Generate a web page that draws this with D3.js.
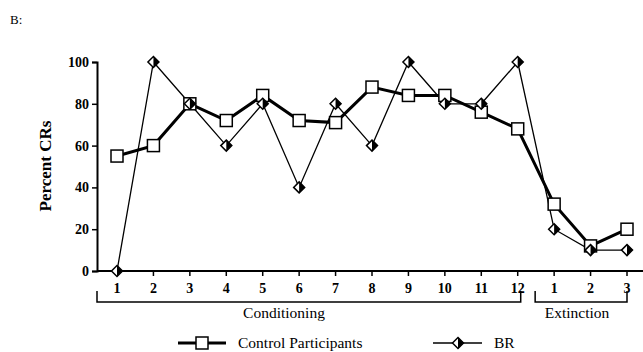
<!DOCTYPE html>
<html>
<head>
<meta charset="utf-8">
<script src="https://cdn.jsdelivr.net/npm/d3@7"></script>
<style>
  body { margin: 0; background: #fff; }
  text { font-family: 'Liberation Serif', 'DejaVu Serif', serif; fill: #000; }
</style>
</head>
<body>
<svg id="chart" width="643" height="352"></svg>
<script>
var trialLabels = ['1', '2', '3', '4', '5', '6', '7', '8', '9', '10', '11', '12', '1', '2', '3'];
var controlValues = [55, 60, 80, 72, 84, 72, 71, 88, 84, 84, 76, 68, 32, 12, 20];
var brValues = [0, 100, 80, 60, 80, 40, 80, 60, 100, 80, 80, 100, 20, 10, 10];
var yTicks = [0, 20, 40, 60, 80, 100];

var svg = d3.select('#chart');

var x = d3.scaleLinear().domain([0, 14]).range([117, 627]);
var y = d3.scaleLinear().domain([0, 100]).range([271, 62]);

// panel letter
svg.append('text').attr('x', 10).attr('y', 24).style('font-size', '13px').text('B:');

// y axis
var yAxis = svg.append('g')
    .attr('transform', 'translate(97,0)')
    .call(d3.axisLeft(y).tickValues(yTicks).tickSize(5).tickPadding(3));
yAxis.select('.domain').attr('stroke', '#000').attr('stroke-width', 2);
yAxis.selectAll('.tick line').attr('stroke-width', 1.5);
yAxis.selectAll('.tick text')
    .style('font-family', "'Liberation Serif', serif")
    .style('font-size', '14px').style('font-weight', 'bold');

svg.append('text')
    .attr('transform', 'translate(51,166) rotate(-90)')
    .attr('text-anchor', 'middle')
    .style('font-size', '17px').style('font-weight', 'bold')
    .text('Percent CRs');

// x axis line
svg.append('line').attr('x1', 97).attr('x2', 643).attr('y1', 271).attr('y2', 271)
    .attr('stroke', '#000').attr('stroke-width', 2);

var xt = svg.append('g').selectAll('g').data(trialLabels).enter().append('g')
    .attr('transform', function (d, i) { return 'translate(' + x(i) + ',271)'; });
xt.append('line').attr('y1', 0).attr('y2', 5).attr('stroke', '#000').attr('stroke-width', 1.5);
xt.append('text').attr('y', 22).attr('text-anchor', 'middle')
    .style('font-size', '14px').style('font-weight', 'bold')
    .text(function (d) { return d; });

// phase brackets
var brackets = [
    { name: 'Conditioning', x0: 97, x1: x(11) + 3, tx: 284 },
    { name: 'Extinction', x0: x(12) - 19, x1: x(14), tx: 577 }
];
brackets.forEach(function (b) {
    svg.append('path')
        .attr('d', 'M' + b.x0 + ',291V302H' + b.x1 + 'V291')
        .attr('fill', 'none').attr('stroke', '#000').attr('stroke-width', 1.5);
    svg.append('text').attr('x', b.tx)
        .attr('y', 318).attr('text-anchor', 'middle').style('font-size', '15.5px')
        .text(b.name);
});

var line = d3.line()
    .x(function (d, i) { return x(i); })
    .y(function (d) { return y(d); });

// BR series (thin)
svg.append('path').datum(brValues).attr('d', line)
    .attr('fill', 'none').attr('stroke', '#000').attr('stroke-width', 1.3);
// control series (thick)
svg.append('path').datum(controlValues).attr('d', line)
    .attr('fill', 'none').attr('stroke', '#000').attr('stroke-width', 3);

function drawSquare(g, cx, cy) {
    g.append('rect').attr('x', cx - 6).attr('y', cy - 6).attr('width', 12).attr('height', 12)
        .attr('fill', '#fff').attr('stroke', '#000').attr('stroke-width', 1.5);
}
function drawDiamond(g, cx, cy) {
    var r = 5.5;
    g.append('path')
        .attr('d', 'M' + cx + ',' + (cy - r) + 'L' + (cx + r) + ',' + cy + 'L' + cx + ',' + (cy + r) + 'L' + (cx - r) + ',' + cy + 'Z')
        .attr('fill', '#fff').attr('stroke', '#000').attr('stroke-width', 1.5);
    g.append('path')
        .attr('d', 'M' + cx + ',' + (cy - r) + 'L' + (cx + r) + ',' + cy + 'L' + cx + ',' + (cy + r) + 'Z')
        .attr('fill', '#000');
}

var marks = svg.append('g');
controlValues.forEach(function (v, i) { drawSquare(marks, x(i), y(v)); });
brValues.forEach(function (v, i) { drawDiamond(marks, x(i), y(v)); });

// legend
var lg = svg.append('g');
lg.append('line').attr('x1', 178).attr('x2', 226).attr('y1', 343).attr('y2', 343)
    .attr('stroke', '#000').attr('stroke-width', 3);
drawSquare(lg, 202, 343);
lg.append('text').attr('x', 238).attr('y', 348).style('font-size', '15.5px').text('Control Participants');

lg.append('line').attr('x1', 433).attr('x2', 482).attr('y1', 343).attr('y2', 343)
    .attr('stroke', '#000').attr('stroke-width', 1.5);
drawDiamond(lg, 458, 343);
lg.append('text').attr('x', 494).attr('y', 348).style('font-size', '15.5px').text('BR');
</script>
</body>
</html>
